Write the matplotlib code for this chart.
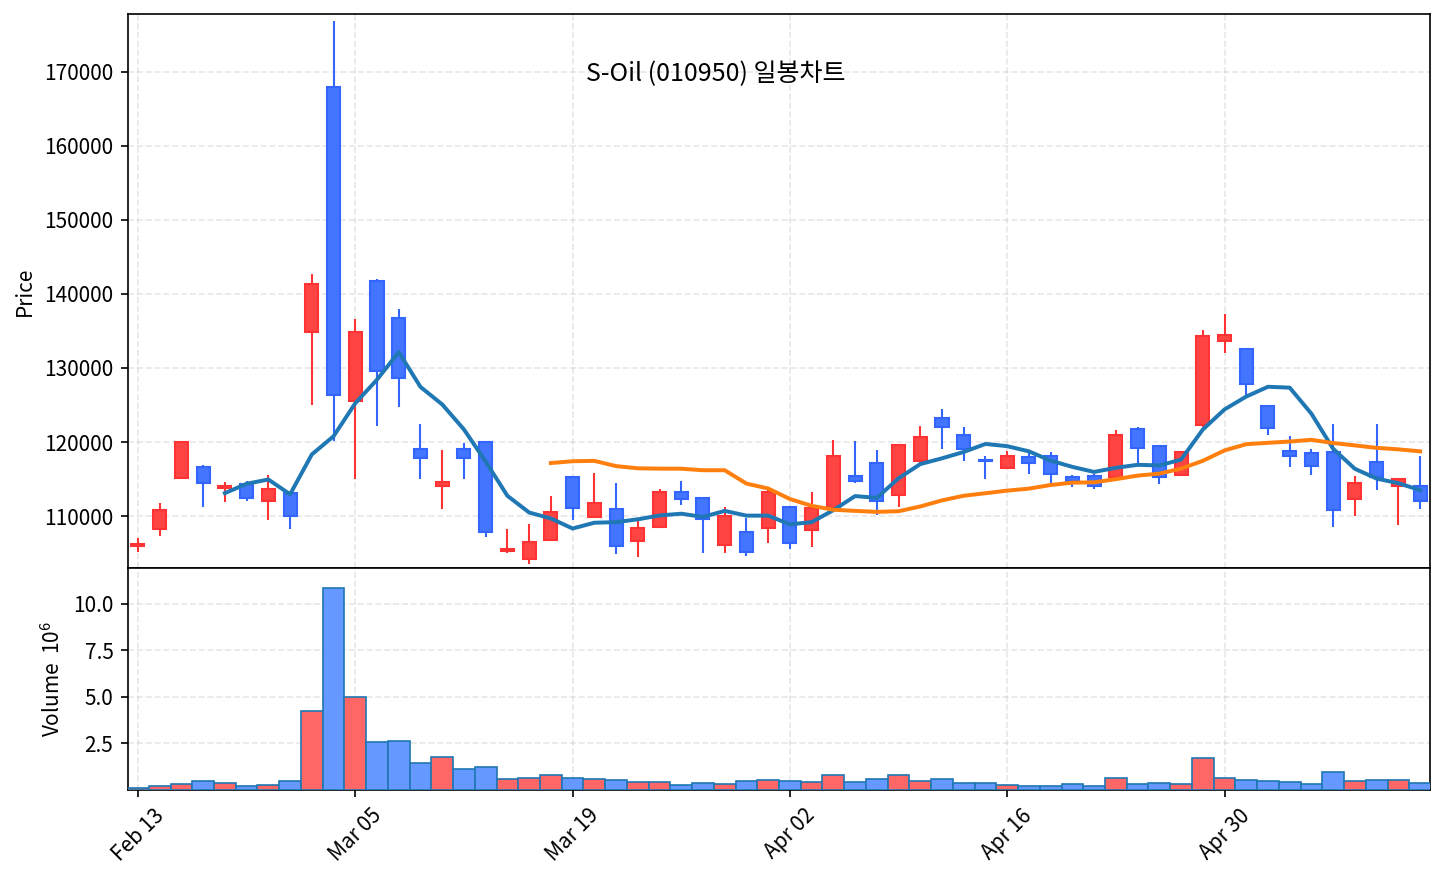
import numpy as np
import pandas as pd
import matplotlib
matplotlib.use('Agg')
import matplotlib.pyplot as plt

plt.rcParams['font.family'] = ['Noto Sans CJK KR', 'DejaVu Sans']
plt.rcParams['font.size'] = 10
plt.rcParams['mathtext.fontset'] = 'custom'
plt.rcParams['mathtext.rm'] = 'Noto Sans CJK KR'
plt.rcParams['axes.unicode_minus'] = False

# daily OHLC (KRW) and volume (millions of shares)
opens = [105900, 108300, 115100, 116600, 113800, 114300, 112000, 113100, 134900, 168000,
         125600, 141700, 136700, 119000, 114000, 119000, 120000, 105300, 104200, 106800,
         115300, 109900, 110900, 106600, 108500, 113200, 112400, 106100, 107800, 108400,
         111200, 108100, 111100, 115400, 117200, 112900, 117500, 123200, 120900, 117600,
         116500, 118000, 118100, 115300, 115400, 115300, 121800, 119500, 115600, 122300,
         133600, 132500, 124900, 118800, 118500, 118700, 112300, 117300, 114100, 114100]
highs = [107000, 111700, 120000, 116850, 114600, 114800, 115500, 113100, 142700, 176900,
         136600, 142000, 137900, 122400, 118900, 119900, 120100, 108300, 108900, 112700,
         115300, 115800, 114500, 109400, 113600, 114700, 112400, 111200, 109700, 113500,
         111200, 113300, 120300, 120100, 118900, 119800, 122200, 124400, 122000, 118100,
         118800, 118500, 118600, 115500, 115700, 121600, 122000, 119500, 118800, 135100,
         137300, 132500, 124900, 120800, 119000, 122400, 115400, 122400, 115000, 118100]
lows = [105100, 107300, 115100, 111200, 111900, 112100, 109500, 108200, 125000, 120100,
        115000, 122100, 124700, 115000, 111000, 115000, 107200, 105000, 103500, 106800,
        109500, 109900, 104900, 104500, 108400, 111500, 105000, 105000, 104600, 106400,
        105500, 105800, 111100, 114400, 110100, 111200, 117200, 119000, 117400, 115000,
        116300, 115700, 114500, 113900, 113600, 115300, 116800, 114300, 115500, 122000,
        132000, 126100, 120900, 116600, 115500, 108500, 110000, 113500, 108800, 110900]
closes = [106200, 110800, 120000, 114400, 114100, 112500, 113700, 110000, 141300, 126400,
          134800, 129600, 128600, 117800, 114600, 117900, 107900, 105500, 106500, 110600,
          111100, 111800, 105900, 108400, 113200, 112300, 109600, 110000, 105200, 113200,
          106400, 111100, 118100, 114700, 112000, 119600, 120700, 122000, 119000, 117400,
          118100, 117200, 115700, 114800, 114000, 120900, 119200, 115300, 118700, 134300,
          134500, 127900, 121900, 118100, 116700, 110800, 114400, 115300, 115000, 112000]
volume_mil = [0.10, 0.21, 0.32, 0.50, 0.37, 0.21, 0.26, 0.50, 4.23, 10.83,
              4.98, 2.59, 2.62, 1.46, 1.77, 1.14, 1.23, 0.59, 0.64, 0.80,
              0.64, 0.59, 0.55, 0.44, 0.44, 0.26, 0.37, 0.30, 0.50, 0.55,
              0.50, 0.41, 0.80, 0.44, 0.59, 0.80, 0.48, 0.60, 0.37, 0.37,
              0.25, 0.19, 0.19, 0.32, 0.19, 0.64, 0.30, 0.37, 0.34, 1.71,
              0.67, 0.53, 0.48, 0.42, 0.30, 0.96, 0.46, 0.53, 0.53, 0.37]
tick_idx = [0, 10, 20, 30, 40, 50]
tick_labels = ['Feb 13', 'Mar 05', 'Mar 19', 'Apr 02', 'Apr 16', 'Apr 30']

df = pd.DataFrame({'open': opens, 'high': highs, 'low': lows,
                   'close': closes, 'volume': volume_mil})
df['ma5'] = df['close'].rolling(5).mean()
df['ma20'] = df['close'].rolling(20).mean()
x = np.arange(len(df))
up = df['close'] >= df['open']

fig = plt.figure(figsize=(9.64, 5.88), dpi=150)
gs = fig.add_gridspec(2, 1, height_ratios=[554, 222], hspace=0,
                      left=0.0885, right=0.989, top=0.984, bottom=0.1043)
ax = fig.add_subplot(gs[0])
axv = fig.add_subplot(gs[1], sharex=ax)

# candles
body_col = np.where(up, '#ff4444', '#4475ff')
edge_col = np.where(up, '#ff3333', '#3366ff')
ax.vlines(x, df['low'], df['high'], colors=edge_col, linewidth=1.0, zorder=2)
ax.bar(x, (df['close'] - df['open']).abs(), bottom=np.minimum(df['open'], df['close']),
       width=0.6, color=body_col, edgecolor=edge_col, linewidth=1.0, zorder=3)

ax.plot(x, df['ma5'], color='#1f77b4', linewidth=1.9, zorder=4)
ax.plot(x, df['ma20'], color='#ff7f0e', linewidth=1.9, zorder=4)

ax.set_ylim(df['low'].min() * 0.995, df['high'].max() * 1.005)
ax.set_yticks(np.arange(110000, 170001, 10000))
ax.set_ylabel('Price')
ax.grid(True, linestyle='--', alpha=0.3)
ax.set_axisbelow(True)
ax.tick_params(axis='x', labelbottom=False, length=0)
fig.text(0.495, 0.916, 'S-Oil (010950) 일봉차트', fontsize=12, ha='center', va='center')

# volume
vol_col = np.where(up, '#ff6666', '#6699ff')
axv.bar(x, df['volume'], width=1.0, color=vol_col, edgecolor='#1f77b4', linewidth=0.8, zorder=3)
axv.set_ylim(0, df['volume'].max() * 1.1)
axv.set_yticks([2.5, 5.0, 7.5, 10.0])
axv.set_ylabel('Volume  $\\mathregular{10^6}$')
axv.grid(True, linestyle='--', alpha=0.3)
axv.set_axisbelow(True)

axv.set_xticks(tick_idx)
axv.set_xticklabels(tick_labels, rotation=45)
axv.set_xlim(-0.46, len(df) - 0.54)

fig.savefig('out.png', dpi=150)
